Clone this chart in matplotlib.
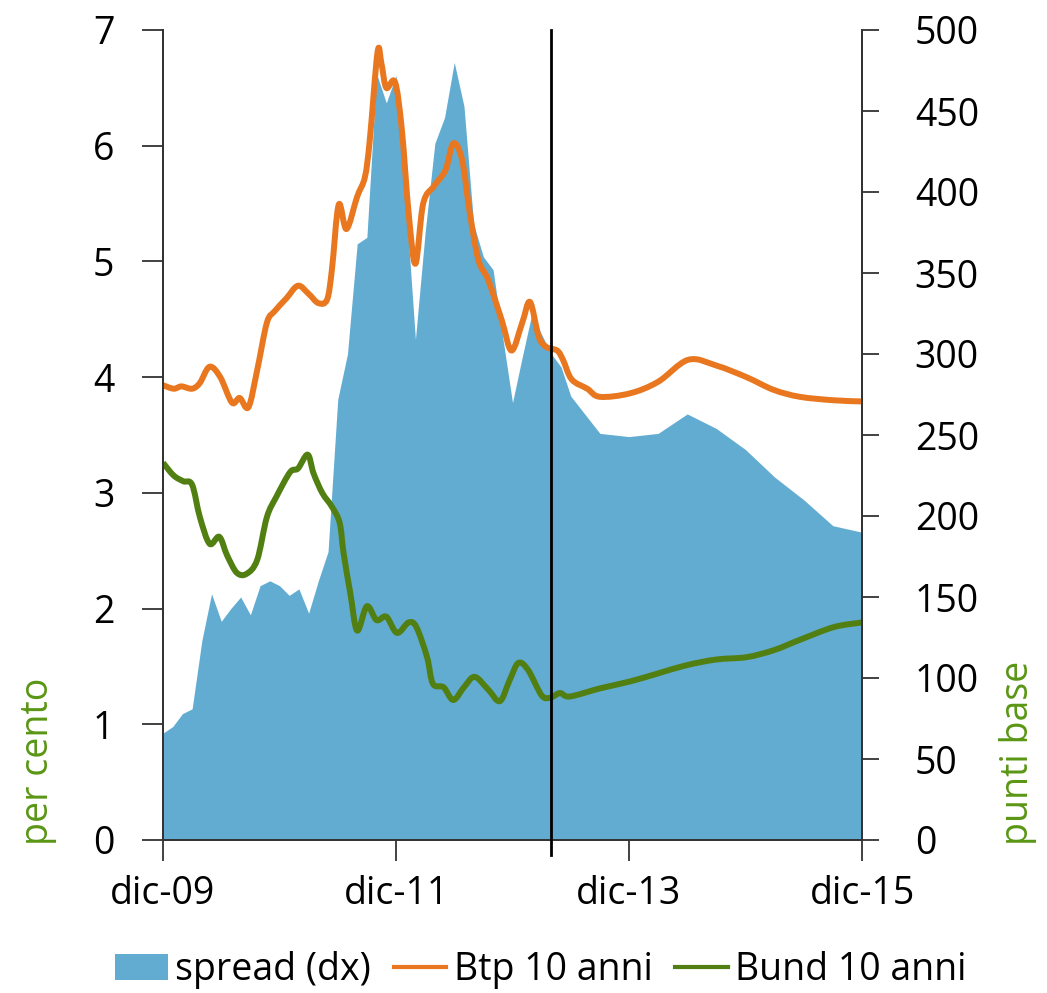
import matplotlib
matplotlib.use("Agg")
import numpy as np
import matplotlib.pyplot as plt
from matplotlib.patches import Patch, PathPatch
from matplotlib.path import Path
from matplotlib.lines import Line2D

plt.rcParams['font.family'] = ['Open Sans', 'DejaVu Sans']

# Months counted from December 2009
x_ticks = [0, 24, 48, 72]
x_ticklabels = ["dic-09", "dic-11", "dic-13", "dic-15"]

# Spread BTP-Bund (basis points, right axis): monthly, then quarterly
spread_month = list(range(0, 43)) + [45, 48, 51, 54, 57, 60, 63, 66, 69, 72]
spread_bp = [66, 70, 78, 81, 123, 152, 135, 143, 150, 139,
             157, 160, 157, 151, 155, 140, 160, 178, 272, 300,
             368, 372, 473, 455, 472, 395, 309, 375, 430, 446,
             480, 453, 380, 360, 352, 310, 270, 298, 325, 312,
             300, 292, 274,
             251, 249, 251, 263, 254, 241, 224, 210, 194, 190]

# 10-year BTP yield (per cent, left axis)
btp_month = [0.0, 1.1, 1.9, 3.0, 3.8, 4.8, 5.9, 7.1, 7.9, 8.8,
             9.7, 10.7, 11.5, 12.7, 13.9, 15.0, 16.0, 16.9, 17.4, 18.1,
             18.9, 20.0, 20.8, 21.3, 22.1, 22.5, 23.0, 23.9, 24.6, 25.3,
             26.0, 26.8, 27.9, 29.1, 29.9, 30.8, 31.6, 32.5, 33.5, 34.9,
             35.9, 37.0, 37.8, 38.7, 39.5, 40.6, 41.2, 42.1, 43.7, 45.0,
             48.1, 51.0, 54.1, 57.0, 60.1, 62.9, 65.6, 69.1, 72.0]
btp_yield = [3.93, 3.90, 3.92, 3.90, 3.95, 4.09, 4.00, 3.78, 3.82, 3.74,
             4.06, 4.47, 4.57, 4.68, 4.79, 4.72, 4.64, 4.67, 4.93, 5.49,
             5.28, 5.56, 5.73, 6.05, 6.81, 6.71, 6.50, 6.55, 6.14, 5.42,
             4.98, 5.50, 5.65, 5.79, 6.02, 5.88, 5.42, 5.01, 4.84, 4.49,
             4.23, 4.47, 4.65, 4.35, 4.26, 4.23, 4.15, 3.98, 3.90, 3.83,
             3.86, 3.96, 4.15, 4.10, 4.00, 3.89, 3.83, 3.80, 3.79]

# 10-year Bund yield (per cent, left axis)
bund_month = [0.0, 1.1, 2.1, 3.0, 3.8, 4.8, 5.8, 6.6, 7.6, 8.6,
              9.7, 10.7, 11.7, 13.1, 13.9, 14.9, 15.5, 16.4, 17.4, 18.2,
              18.6, 19.3, 20.0, 21.0, 22.0, 23.0, 24.1, 25.3, 26.1, 27.2,
              27.8, 28.9, 29.9, 31.0, 32.1, 33.5, 34.7, 35.7, 36.6, 37.6,
              39.0, 39.9, 40.9, 41.9, 45.0, 48.1, 51.0, 53.9, 57.0, 60.1,
              62.9, 65.6, 69.1, 72.0]
bund_yield = [3.26, 3.15, 3.10, 3.07, 2.79, 2.56, 2.62, 2.46, 2.31, 2.30,
              2.42, 2.79, 2.97, 3.18, 3.21, 3.33, 3.17, 3.00, 2.88, 2.74,
              2.48, 2.13, 1.81, 2.02, 1.90, 1.93, 1.79, 1.88, 1.84, 1.58,
              1.35, 1.32, 1.21, 1.32, 1.41, 1.30, 1.20, 1.38, 1.53, 1.47,
              1.25, 1.23, 1.27, 1.24, 1.31, 1.37, 1.44, 1.51, 1.56, 1.58,
              1.64, 1.73, 1.84, 1.88]

marker_month = 40

BLUE = "#62acd2"
ORANGE = "#e8771f"
GREEN = "#527f12"
LABEL_GREEN = "#5a9614"
SPINE = "#333333"
FS = 27
LW = 4.3


def smooth_path(xs, ys, tension=6.0):
    """Cubic Bezier path through every point (Catmull-Rom style handles)."""
    p = np.column_stack([xs, ys]).astype(float)
    verts = [p[0]]
    codes = [Path.MOVETO]
    n = len(p)
    for i in range(n - 1):
        p0 = p[i - 1] if i > 0 else p[i]
        p1, p2 = p[i], p[i + 1]
        p3 = p[i + 2] if i + 2 < n else p[i + 1]
        c1 = p1 + (p2 - p0) / tension
        c2 = p2 - (p3 - p1) / tension
        verts += [c1, c2, p2]
        codes += [Path.CURVE4] * 3
    return Path(verts, codes)


fig = plt.figure(figsize=(10.47, 9.93), dpi=100)
ax = fig.add_axes([163 / 1047, 153 / 993, 699 / 1047, 810 / 993])
ax2 = ax.twinx()

ax2.fill_between(spread_month, spread_bp, 0, color=BLUE, lw=0)
ax2.set_ylim(0, 500)
ax2.set_yticks(range(0, 501, 50))

ax.set_zorder(ax2.get_zorder() + 1)
ax.patch.set_visible(False)

for xs, ys, col in ((btp_month, btp_yield, ORANGE), (bund_month, bund_yield, GREEN)):
    ax.add_patch(PathPatch(smooth_path(xs, ys), fill=False, edgecolor=col, lw=LW,
                           joinstyle='round', capstyle='butt'))
ax.axvline(marker_month, ymin=-0.018, ymax=1, color='black', lw=2, clip_on=False,
           zorder=5)

ax.set_xlim(0, 72)
ax.set_ylim(0, 7)
ax.set_yticks(range(0, 8))
ax.set_xticks(x_ticks)
ax.set_xticklabels(x_ticklabels)

for a in (ax, ax2):
    a.spines['top'].set_visible(False)
    for s in ('left', 'right', 'bottom'):
        a.spines[s].set_color(SPINE)
        a.spines[s].set_linewidth(1.3)

ax.tick_params(axis='y', direction='out', length=15, width=1.3, pad=20,
               labelsize=FS, color=SPINE)
ax.tick_params(axis='x', direction='out', length=15, width=1.3, pad=10,
               labelsize=FS, color=SPINE)
ax2.tick_params(axis='y', direction='out', length=12, width=1.3, pad=26,
                labelsize=FS, color=SPINE)

fig.text(38 / 1047, 1 - 845 / 993, "per cento", rotation=90, color=LABEL_GREEN,
         fontsize=FS, ha='center', va='bottom')
fig.text(1018 / 1047, 1 - 845 / 993, "punti base", rotation=90, color=LABEL_GREEN,
         fontsize=FS, ha='center', va='bottom')

handles = [Patch(facecolor=BLUE, edgecolor='none'),
           Line2D([], [], color=ORANGE, lw=3),
           Line2D([], [], color=GREEN, lw=3)]
labels = ["spread (dx)", "Btp 10 anni", "Bund 10 anni"]
fig.legend(handles, labels, loc='center', bbox_to_anchor=(541 / 1047, 1 - 970 / 993),
           ncol=3, frameon=False, fontsize=FS, handlelength=1.4,
           handletextpad=0.2, columnspacing=0.6, borderpad=0)

fig.savefig("out.png", dpi=100)
